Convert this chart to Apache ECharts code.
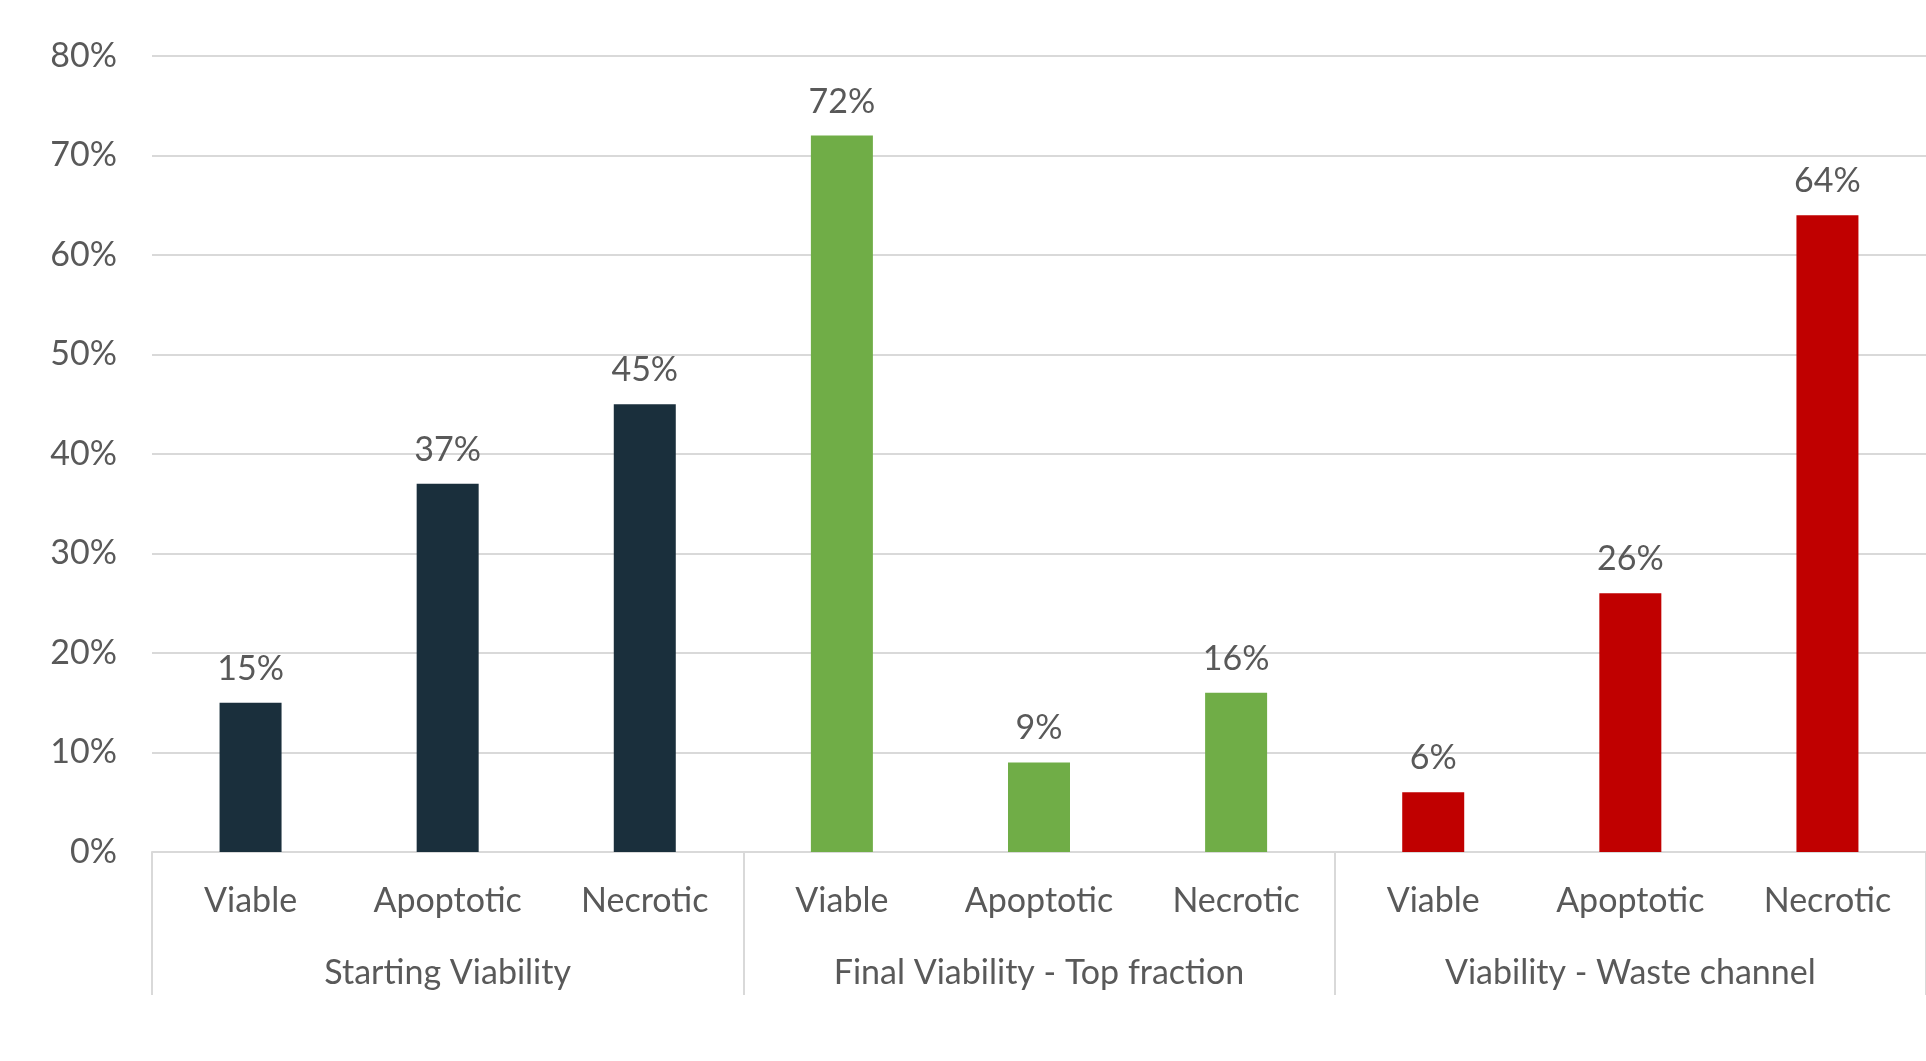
<!DOCTYPE html>
<html>
<head>
<meta charset="utf-8">
<script src="https://cdn.jsdelivr.net/npm/echarts@6/dist/echarts.min.js"></script>
<style>
  html, body { margin: 0; padding: 0; background: #ffffff; }
  #chart { width: 1926px; height: 1061px; }
</style>
</head>
<body>
<div id="chart"></div>
<script>
// Cell state measured in each stage
const categories = ['Viable', 'Apoptotic', 'Necrotic', 'Viable', 'Apoptotic', 'Necrotic', 'Viable', 'Apoptotic', 'Necrotic'];
const groups = ['Starting Viability', 'Final Viability - Top fraction', 'Viability - Waste channel'];
const values = [15, 37, 45, 72, 9, 16, 6, 26, 64];
const groupColors = ['#1a2f3c', '#70ad47', '#c00000'];
const yTicks = [0, 10, 20, 30, 40, 50, 60, 70, 80];

const FONT = 'Lato, "Open Sans", sans-serif';
const TEXT = '#595959';
const LINE = '#d9d9d9';
const FS = 34;

const chart = echarts.init(document.getElementById('chart'));
chart.setOption({
  animation: false,
  grid: { left: 152, width: 1782, top: 56, bottom: 209 },
  xAxis: [
    {
      type: 'category',
      data: categories,
      position: 'bottom',
      axisLine: { show: true, lineStyle: { color: LINE, width: 2 } },
      axisTick: { show: false },
      axisLabel: { color: TEXT, fontSize: FS, fontFamily: FONT, margin: 31, lineHeight: 36, interval: 0 }
    },
    {
      type: 'category',
      data: groups,
      position: 'bottom',
      axisLine: { show: false },
      axisTick: { show: true, length: 143, interval: 0, lineStyle: { color: LINE, width: 2 } },
      axisLabel: { color: TEXT, fontSize: FS, fontFamily: FONT, margin: 103, lineHeight: 36, interval: 0 }
    }
  ],
  yAxis: {
    type: 'value',
    min: yTicks[0],
    max: yTicks[yTicks.length - 1],
    interval: 10,
    axisLine: { show: false },
    axisTick: { show: false },
    splitLine: { lineStyle: { color: LINE, width: 2 } },
    axisLabel: { color: TEXT, fontSize: FS, fontFamily: FONT, margin: 35, formatter: '{value}%' }
  },
  series: [{
    type: 'bar',
    xAxisIndex: 0,
    barWidth: 62,
    data: values.map((v, i) => ({ value: v, itemStyle: { color: groupColors[Math.floor(i / 3)] } })),
    label: {
      show: true,
      position: 'top',
      distance: 16,
      color: TEXT,
      fontSize: FS,
      fontFamily: FONT,
      lineHeight: 36,
      formatter: p => p.value + '%'
    }
  }]
});
</script>
</body>
</html>
